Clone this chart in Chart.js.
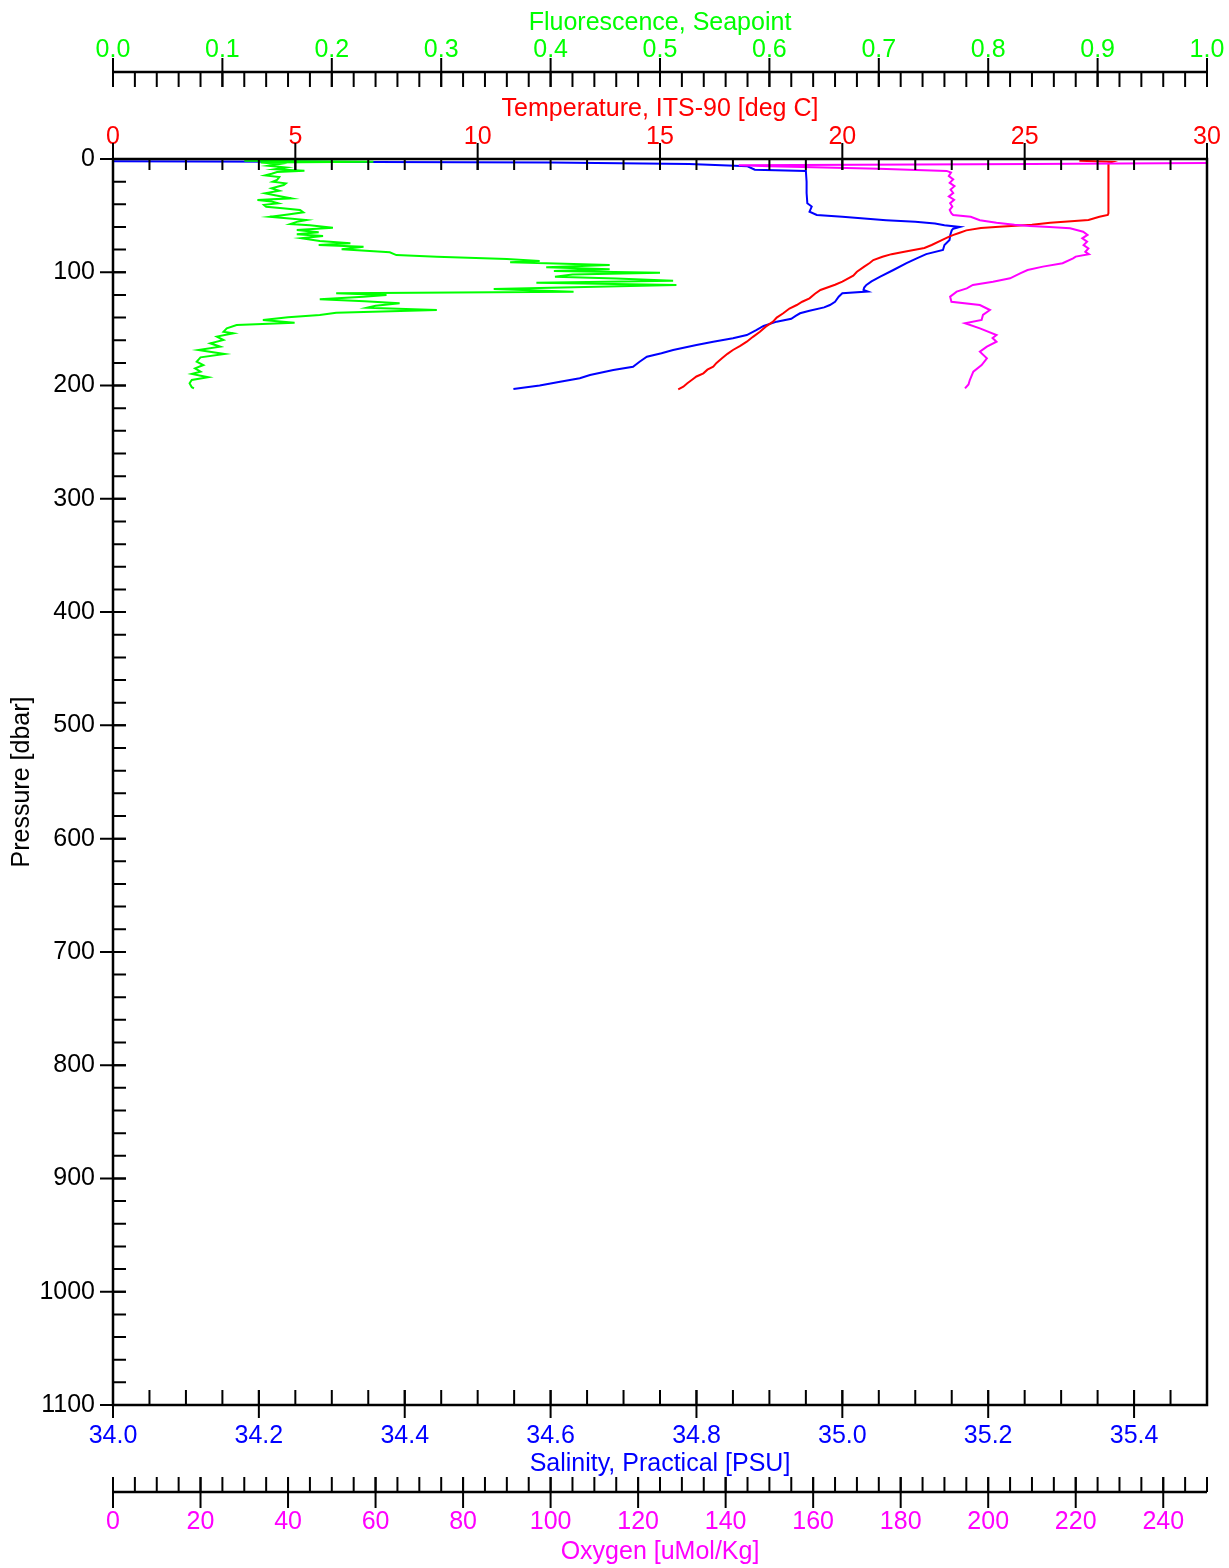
<!DOCTYPE html>
<html>
<head>
<meta charset="utf-8">
<script src="https://cdn.jsdelivr.net/npm/chart.js@4.4.1/dist/chart.umd.min.js"></script>
<style>
  html, body { margin:0; padding:0; background:#fff; overflow:hidden; }
  #wrap { width:1229px; height:1568px; }
</style>
</head>
<body>
<div id="wrap"><canvas id="ctd"></canvas></div>
<script>
// tick labels of each axis
const pressureTicks = [0,100,200,300,400,500,600,700,800,900,1000,1100];
const salinityTicks = [34.0,34.2,34.4,34.6,34.8,35.0,35.2,35.4];
const oxygenTicks = [0,20,40,60,80,100,120,140,160,180,200,220,240];
const temperatureTicks = [0,5,10,15,20,25,30];
const fluorescenceTicks = [0,0.1,0.2,0.3,0.4,0.5,0.6,0.7,0.8,0.9,1.0];

// Temperature, ITS-90 [deg C]
const tempPressure = [1.5,2.5,3.5,20,40,48,49.4,51,53.9,56.2,58,59.8,61,63,65.3,67,68.9,72,75.9,78.5,81.8,84,86.3,89.2,91.8,95,99.5,103,108.3,111,115.6,119,123,126,128.9,132,136.2,140,143.6,148,152.5,157,161.3,165,168.6,172,175.9,180,183.4,186,189.2,192,195.1,198,201,203.3];
const tempValues = [26.5,27.4,27.3,27.29,27.3,27.3,27.28,27.05,26.75,25.7,25.2,24.3,23.8,23.4,23.2,23.05,22.9,22.7,22.45,22.25,21.7,21.35,21.1,20.85,20.75,20.6,20.4,20.3,20.0,19.8,19.4,19.25,19.1,18.9,18.75,18.55,18.38,18.2,18.1,17.9,17.74,17.55,17.38,17.2,17.0,16.85,16.7,16.55,16.46,16.3,16.19,16.0,15.87,15.75,15.64,15.5];

// Salinity, Practical [PSU]
const salPressure = [2,3,4.5,6.5,9.5,10.5,20,30,39,42,46.5,49.4,51,52.5,54,55.5,57,58.5,60,61.5,63,67,71.5,76,80.3,84,87.7,92,98,103.9,108,111.2,113.5,115.6,117,118.6,121.6,126,128.9,131,134,136.2,138.5,141,143.6,147.4,151,155.4,158.3,161.3,164.2,168.6,171.5,174.5,179,183.4,186.3,190.7,193.6,196.6,200,203];
const salValues = [34.0,34.6,34.79,34.87,34.88,34.95,34.951,34.951,34.952,34.958,34.955,34.965,35.0,35.03,35.06,35.1,35.127,35.14,35.161,35.152,35.15,35.148,35.147,35.14,35.138,35.115,35.102,35.088,35.07,35.052,35.04,35.033,35.03,35.029,35.035,35.0,34.995,34.99,34.983,34.975,34.955,34.942,34.936,34.93,34.91,34.892,34.882,34.869,34.85,34.823,34.8,34.768,34.752,34.732,34.722,34.713,34.686,34.654,34.64,34.613,34.585,34.549];

// Oxygen [uMol/Kg]
const oxyPressure = [2.5,3.5,4.5,5.5,6.5,8.5,10.5,12,15,18,21,24,27,30,33,36,39,42,45,48,49.5,51,54,56.2,58,59.1,60,61.2,64.2,67,70,73,76,79,82,84,86.2,87.7,92,95,98,100.9,105.3,108.3,111.2,114.2,117.1,121.6,126,128.9,133.3,137.7,142.1,145,149.5,155.4,158,161.3,165.7,170.1,176,181.9,187.8,195.1,199,202.5];
const oxyValues = [262,250,210,143,150,175,190.5,191.5,191,192,191.2,192.3,191.4,192,191,192.2,191.3,191.8,191.2,191.6,192,196,198.1,201.9,206,209.5,214,218.7,221.7,222.7,221.5,222.6,221.8,222.9,222.2,223,220,219.4,217,212.5,209,207.3,205,201.1,196.5,195.1,192.8,191.3,191.6,198.1,200.4,198.8,198.5,194.7,198.1,201.9,201,201.9,199.7,198.1,199.7,198.5,196.6,195.8,195.5,194.7];

// Fluorescence, Seapoint
const fluorPressure = [1.5,2.5,3,4.5,6,7.5,9,10.3,11.5,13,14.5,16,18.5,20,21.5,23,25.9,28,30.3,32,34.7,36.2,37.5,39.1,40.5,42.1,43.5,45,47.1,49,51,53.9,55.5,57.4,58.5,60.6,62.7,64.7,66.5,68,70,72.4,74.4,75.9,77.4,79.7,82.4,84.8,86.3,88.3,90,91.2,93.6,95.6,97.4,98.9,100.4,102,103.9,105.5,107.4,109.2,111.2,114.8,117.1,118.6,120,121.6,123.9,125.5,127.4,129.5,131.3,133.3,135.7,137.7,139.7,142.1,144.5,146.5,149.5,152.5,153.9,156.8,159.8,162.7,165.7,168.6,172.2,175.1,178.9,181.9,184.8,187.8,189.8,192.7,195.1,198,201.5,202.5];
const fluorValues = [0.12,0.238,0.135,0.152,0.142,0.158,0.148,0.175,0.15,0.145,0.139,0.152,0.15,0.146,0.158,0.156,0.145,0.152,0.139,0.148,0.163,0.132,0.145,0.151,0.138,0.14,0.155,0.171,0.174,0.16,0.1435,0.177,0.168,0.162,0.18,0.201,0.168,0.188,0.168,0.192,0.172,0.189,0.217,0.188,0.229,0.209,0.253,0.259,0.296,0.36,0.39,0.363,0.454,0.396,0.454,0.403,0.5,0.42,0.404,0.46,0.512,0.387,0.515,0.348,0.421,0.204,0.25,0.229,0.189,0.23,0.262,0.24,0.232,0.296,0.204,0.189,0.16,0.137,0.166,0.113,0.104,0.101,0.11,0.095,0.101,0.089,0.098,0.078,0.102,0.08,0.0765,0.0826,0.075,0.08,0.072,0.087,0.072,0.07,0.072,0.074];

const FAMILY = "'Liberation Sans', Arial, sans-serif";
const GREEN = '#00ff00', RED = '#ff0000', BLUE = '#0000ff', MAGENTA = '#ff00ff';

function toPoints(pres, vals){ return pres.map((p,i)=>({x: vals[i], y: p})); }
function fixTicks(list){ return scale => { scale.ticks = list.map(v=>({value: v})); }; }
function noPad(s){ s.paddingLeft = 0; s.paddingRight = 0; s.paddingTop = 0; s.paddingBottom = 0; }

function series(label, pres, vals, color, axis){
  return { label, data: toPoints(pres, vals), xAxisID: axis, yAxisID: 'y',
    showLine: true, borderColor: color, borderWidth: 2, pointRadius: 0, tension: 0, fill: false };
}

function xAxis(pos, weight, min, max, list, color, title, height, pad, tPad, digits){
  return {
    type: 'linear', axis: 'x', position: pos, weight, min, max,
    afterBuildTicks: fixTicks(list),
    afterFit: s => { s.height = height; noPad(s); },
    grid: { display: false, drawTicks: false, tickLength: 0 },
    border: { display: false },
    ticks: { color, font: { family: FAMILY, size: 25 }, padding: pad, autoSkip: false,
      maxRotation: 0, minRotation: 0, callback: v => v.toFixed(digits) },
    title: { display: true, text: title, color, font: { family: FAMILY, size: 25 }, padding: tPad }
  };
}

// frame and tick marks, drawn from the scales
function marks(ctx, scale, step, horiz, base, a, b){
  const n = Math.round((scale.max - scale.min) / step);
  ctx.beginPath();
  for(let i=0; i<=n; i++){
    const p = scale.getPixelForValue(scale.min + i*step);
    if(horiz){ ctx.moveTo(p, base + a); ctx.lineTo(p, base + b); }
    else { ctx.moveTo(base + a, p); ctx.lineTo(base + b, p); }
  }
  ctx.stroke();
}

const framePlugin = {
  id: 'frame',
  afterDatasetsDraw(chart){
    const {ctx, chartArea: c, scales: s} = chart;
    ctx.save();
    ctx.strokeStyle = '#000';
    ctx.lineWidth = 2;
    // temperature (plot top)
    marks(ctx, s.xTemp, 1, true, c.top, 0, 11);
    marks(ctx, s.xTemp, 5, true, c.top, -16, 11);
    // fluorescence
    const yF = s.xFluor.bottom - 18;
    marks(ctx, s.xFluor, 0.02, true, yF, 0, 15);
    marks(ctx, s.xFluor, 0.1, true, yF, -14, 15);
    // salinity (plot bottom)
    marks(ctx, s.xSal, 0.05, true, c.bottom, -15, 0);
    marks(ctx, s.xSal, 0.2, true, c.bottom, -15, 13);
    // oxygen
    const yO = s.xOxy.top + 12;
    marks(ctx, s.xOxy, 5, true, yO, -15, 0);
    marks(ctx, s.xOxy, 20, true, yO, -15, 16);
    // pressure
    marks(ctx, s.y, 20, false, c.left, 0, 13);
    marks(ctx, s.y, 100, false, c.left, -13, 13);

    ctx.lineWidth = 2.5;
    ctx.beginPath();
    ctx.moveTo(c.left, yF); ctx.lineTo(c.right, yF);
    ctx.moveTo(c.left, yO); ctx.lineTo(c.right, yO);
    ctx.stroke();
    ctx.strokeRect(c.left, c.top, c.right - c.left, c.bottom - c.top);
    ctx.restore();
  }
};

new Chart(document.getElementById('ctd'), {
  type: 'scatter',
  data: {
    datasets: [
      series('Fluorescence, Seapoint', fluorPressure, fluorValues, GREEN, 'xFluor'),
      series('Oxygen [uMol/Kg]', oxyPressure, oxyValues, MAGENTA, 'xOxy'),
      series('Temperature, ITS-90 [deg C]', tempPressure, tempValues, RED, 'xTemp'),
      series('Salinity, Practical [PSU]', salPressure, salValues, BLUE, 'xSal')
    ]
  },
  options: {
    responsive: true, maintainAspectRatio: false, animation: false, devicePixelRatio: 1,
    events: [],
    layout: { padding: { left: 0, right: 22, top: 0, bottom: 0 } },
    plugins: { legend: { display: false }, tooltip: { enabled: false } },
    scales: {
      y: {
        type: 'linear', axis: 'y', position: 'left', reverse: true, min: 0, max: 1100,
        afterBuildTicks: fixTicks(pressureTicks),
        afterFit: s => { s.width = 113; noPad(s); },
        grid: { display: false, drawTicks: false, tickLength: 0 },
        border: { display: false },
        ticks: { color: '#000', font: { family: FAMILY, size: 25 }, padding: 18, autoSkip: false, callback: v => String(v) },
        title: { display: true, text: 'Pressure [dbar]', color: '#000', font: { family: FAMILY, size: 25 }, padding: { top: 7, bottom: 0 } }
      },
      xTemp: xAxis('top', 1, 0, 30, temperatureTicks, RED, 'Temperature, ITS-90 [deg C]', 69, 6.5, { top: 4.5, bottom: 0 }, 0),
      xFluor: xAxis('top', 2, 0, 1, fluorescenceTicks, GREEN, 'Fluorescence, Seapoint', 90, 25.3, { top: 8, bottom: 0 }, 1),
      xSal: xAxis('bottom', 1, 34, 35.5, salinityTicks, BLUE, 'Salinity, Practical [PSU]', 75, 16, { top: 0, bottom: 1 }, 1),
      xOxy: xAxis('bottom', 2, 0, 250, oxygenTicks, MAGENTA, 'Oxygen [uMol/Kg]', 88, 27.5, { top: 0, bottom: 1 }, 0)
    }
  },
  plugins: [framePlugin]
});
</script>
</body>
</html>
